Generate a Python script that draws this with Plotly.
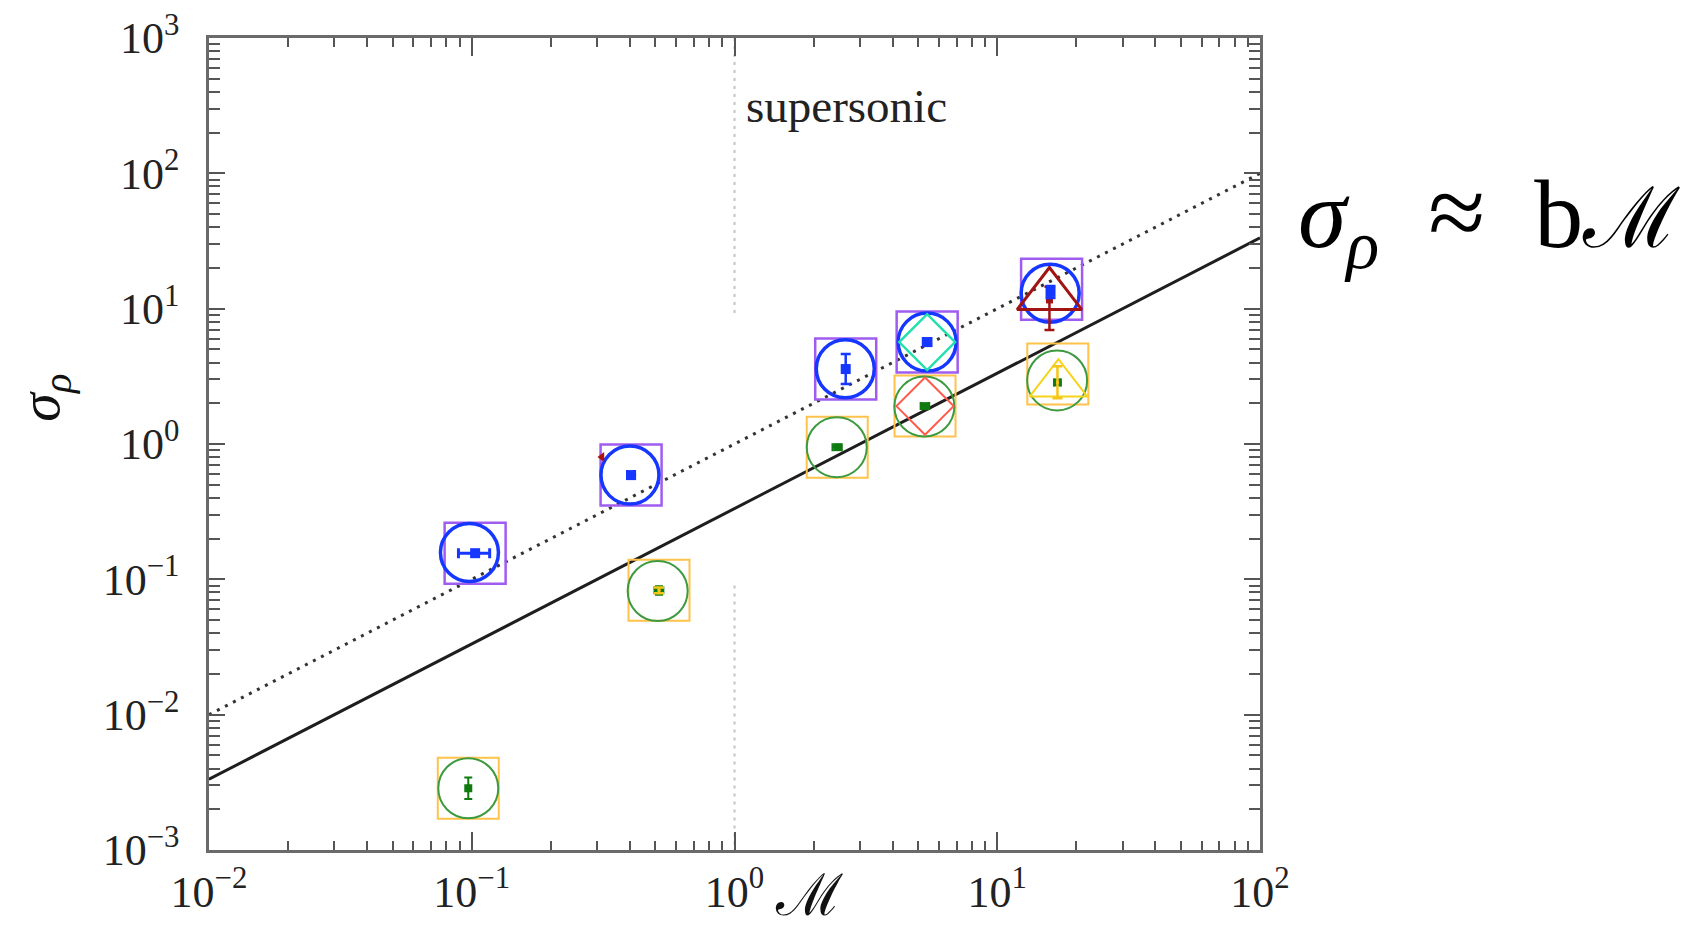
import plotly.graph_objects as go

# ---------------- data ----------------
# upper group (purple squares / blue circles)
purple_sq_M = [0.103, 0.404, 2.65, 5.41, 16.1]
purple_sq_sig = [0.156, 0.589, 3.58, 5.66, 13.9]
blue_circ_M = [0.098, 0.40, 2.64, 5.41, 15.9]
blue_circ_sig = [0.158, 0.589, 3.60, 5.66, 13.0]
# lower group (orange squares / green circles)
orange_sq_M = [0.097, 0.516, 2.46, 5.31, 17.0]
orange_sq_sig = [0.00286, 0.083, 0.948, 1.905, 3.29]
green_circ_M = [0.097, 0.51, 2.45, 5.28, 16.9]
green_circ_sig = [0.00286, 0.082, 0.948, 1.89, 2.95]
# extra symbols
teal_dia_M, teal_dia_sig = [5.41], [5.66]
red_dia_M, red_dia_sig = [5.31], [1.905]
dred_tri_M, dred_tri_sig = [15.8], [12.5]
yel_tri_M, yel_tri_sig = [17.1], [2.77]
# inner points with error bars
blue_pt_M = [0.103, 0.404, 2.65, 5.41, 15.95]
blue_pt_sig = [0.156, 0.589, 3.58, 5.66, 13.3]
blue_pt_ex = [0.014, 0.012, 0.0, 0.18, 0.0]
blue_pt_ey_p = [0.0, 0.0, 1.04, 0.35, 1.4]
blue_pt_ey_m = [0.0, 0.0, 0.81, 0.35, 1.3]
dred_pt_M, dred_pt_sig = [15.8], [11.6]
dred_pt_ey_p, dred_pt_ey_m = [2.9], [4.65]
green_pt_M = [0.097, 0.516, 2.46, 5.31, 16.95]
green_pt_sig = [0.00286, 0.083, 0.948, 1.905, 2.85]
green_pt_ex = [0.0, 0.02, 0.1, 0.2, 0.5]
green_pt_ey_p = [0.00058, 0.006, 0.0, 0.0, 0.0]
green_pt_ey_m = [0.00048, 0.006, 0.0, 0.0, 0.0]
yel_pt_M, yel_pt_sig = [16.95, 0.516], [2.85, 0.083]
yel_pt_ey_p, yel_pt_ey_m = [0.9, 0.004], [0.67, 0.004]
stray_M, stray_sig = [0.313], [0.80]
# relation sigma = b * M
fit_b = [1.0, 1.0 / 3.0]
fit_M = [0.01, 100.0]
sonic_M = [1.0, 1.0, None, 1.0, 1.0]
sonic_sig = [1e3, 9.0, None, 0.09, 1e-3]

x_ticks = [0.01, 0.1, 1, 10, 100]
x_labels = ["10<sup>−2</sup>", "10<sup>−1</sup>", "10<sup>0</sup>", "10<sup>1</sup>", "10<sup>2</sup>"]
y_ticks = [1e-3, 1e-2, 1e-1, 1, 10, 100, 1000]
y_labels = ["10<sup>−3</sup>", "10<sup>−2</sup>", "10<sup>−1</sup>", "10<sup>0</sup>",
            "10<sup>1</sup>", "10<sup>2</sup>", "10<sup>3</sup>"]

FONT = "Liberation Serif"

fig = go.Figure()

# supersonic boundary
fig.add_trace(go.Scatter(x=sonic_M, y=sonic_sig, mode="lines",
                         line=dict(color="#c4c4c4", width=2, dash="3px,5px"),
                         hoverinfo="skip", showlegend=False))
# fit lines
fig.add_trace(go.Scatter(x=fit_M, y=[fit_b[0] * m for m in fit_M], mode="lines",
                         line=dict(color="#333333", width=3, dash="3px,6px"), showlegend=False))
fig.add_trace(go.Scatter(x=fit_M, y=[fit_b[1] * m for m in fit_M], mode="lines",
                         line=dict(color="#1e1e1e", width=3), showlegend=False))


def sym(x, y, symbol, size, color, lw):
    fig.add_trace(go.Scatter(
        x=x, y=y, mode="markers", showlegend=False,
        marker=dict(symbol=symbol, size=size, color="rgba(0,0,0,0)",
                    line=dict(color=color, width=lw))))


sym(orange_sq_M, orange_sq_sig, "square", 61, "#ffc24a", 2)
sym(green_circ_M, green_circ_sig, "circle", 60, "#3e9a3e", 2)
sym(red_dia_M, red_dia_sig, "diamond", 44, "#ff5a4a", 2)
sym(yel_tri_M, yel_tri_sig, "triangle-up", 50, "#f7d31a", 2)
sym(purple_sq_M, purple_sq_sig, "square", 61, "#a05cf0", 2.5)
sym(blue_circ_M, blue_circ_sig, "circle", 58, "#1637ff", 3.5)
sym(teal_dia_M, teal_dia_sig, "diamond", 43, "#22dfae", 2.5)
sym(dred_tri_M, dred_tri_sig, "triangle-up", 56, "#a01414", 3)

# inner points with error bars
fig.add_trace(go.Scatter(
    x=green_pt_M, y=green_pt_sig, mode="markers", showlegend=False,
    marker=dict(symbol="square", size=8, color="#0f7a0f"),
    error_x=dict(type="data", array=green_pt_ex, color="#0f7a0f", thickness=2, width=4),
    error_y=dict(type="data", array=green_pt_ey_p, arrayminus=green_pt_ey_m,
                 color="#0f7a0f", thickness=2, width=4)))
fig.add_trace(go.Scatter(
    x=yel_pt_M, y=yel_pt_sig, mode="markers", showlegend=False,
    marker=dict(symbol="square", size=3, color="#f5c518"),
    error_y=dict(type="data", array=yel_pt_ey_p, arrayminus=yel_pt_ey_m,
                 color="#f5c518", thickness=2.5, width=5)))
fig.add_trace(go.Scatter(
    x=dred_pt_M, y=dred_pt_sig, mode="markers", showlegend=False,
    marker=dict(symbol="square", size=7, color="#a01414"),
    error_y=dict(type="data", array=dred_pt_ey_p, arrayminus=dred_pt_ey_m,
                 color="#a01414", thickness=2.5, width=5)))
fig.add_trace(go.Scatter(
    x=blue_pt_M, y=blue_pt_sig, mode="markers", showlegend=False,
    marker=dict(symbol="square", size=10, color="#1637ff"),
    error_x=dict(type="data", array=blue_pt_ex, color="#1637ff", thickness=3, width=5),
    error_y=dict(type="data", array=blue_pt_ey_p, arrayminus=blue_pt_ey_m,
                 color="#1637ff", thickness=2.5, width=5)))
fig.add_trace(go.Scatter(
    x=stray_M, y=stray_sig, mode="markers", showlegend=False,
    marker=dict(symbol="triangle-left", size=9, color="#b01010")))

minor_x = [k * 10.0 ** e for e in range(-2, 2) for k in range(2, 10)]
minor_y = [k * 10.0 ** e for e in range(-3, 3) for k in range(2, 10)]

axis_common = dict(type="log", showline=True, linecolor="#6a6a6a", linewidth=2.5,
                   mirror="allticks", ticks="inside", tickcolor="#555555", tickwidth=1.5,
                   showgrid=False, zeroline=False, automargin=False,
                   ticklabeloverflow="allow",
                   tickfont=dict(family=FONT, size=44, color="#222222"),
                   tickmode="array")

fig.update_xaxes(**axis_common, range=[-2, 2], tickvals=x_ticks, ticktext=x_labels,
                 ticklen=18, ticklabelstandoff=1,
                 minor=dict(tickmode="array", tickvals=minor_x, ticks="inside",
                            ticklen=9, tickcolor="#555555", tickwidth=1.5))
fig.update_yaxes(**axis_common, range=[-3, 3], tickvals=y_ticks, ticktext=y_labels,
                 ticklen=16, ticklabelstandoff=18,
                 minor=dict(tickmode="array", tickvals=minor_y, ticks="inside",
                            ticklen=11, tickcolor="#555555", tickwidth=1.5))

fig.add_annotation(x=0.035, y=2.497, xref="x", yref="y", text="supersonic",
                   showarrow=False, xanchor="left", yanchor="middle",
                   font=dict(family=FONT, size=47, color="#222222"))
fig.add_annotation(x=-0.157, y=0.557, xref="paper", yref="paper",
                   text="<i>σ</i><sub><i>ρ</i></sub>", textangle=-90, showarrow=False,
                   xanchor="center", yanchor="middle",
                   font=dict(family=FONT, size=58, color="#111111"))
fig.add_annotation(x=0.571, y=-0.056, xref="paper", yref="paper", text="ℳ",
                   showarrow=False, xanchor="center", yanchor="middle",
                   font=dict(family="DejaVu Serif", size=58, color="#111111"))
fig.add_annotation(x=1.034, y=0.778, xref="paper", yref="paper",
                   text=("<i>σ</i><sub><i>ρ</i></sub>\u00a0\u00a0"
                         "<span style='font-size:104px'>≈</span>\u00a0\u00a0b"
                         "<span style='font-size:84px'>ℳ</span>"),
                   showarrow=False, xanchor="left", yanchor="middle",
                   font=dict(family=FONT, size=98, color="#000000"))

# page body adds an 8px margin; size the figure so the plot area lands where the reference's does
fig.update_layout(width=1692, height=914, plot_bgcolor="white", paper_bgcolor="white",
                  margin=dict(l=201, r=440, t=30, b=72), showlegend=False)

fig.write_html("out.html")
